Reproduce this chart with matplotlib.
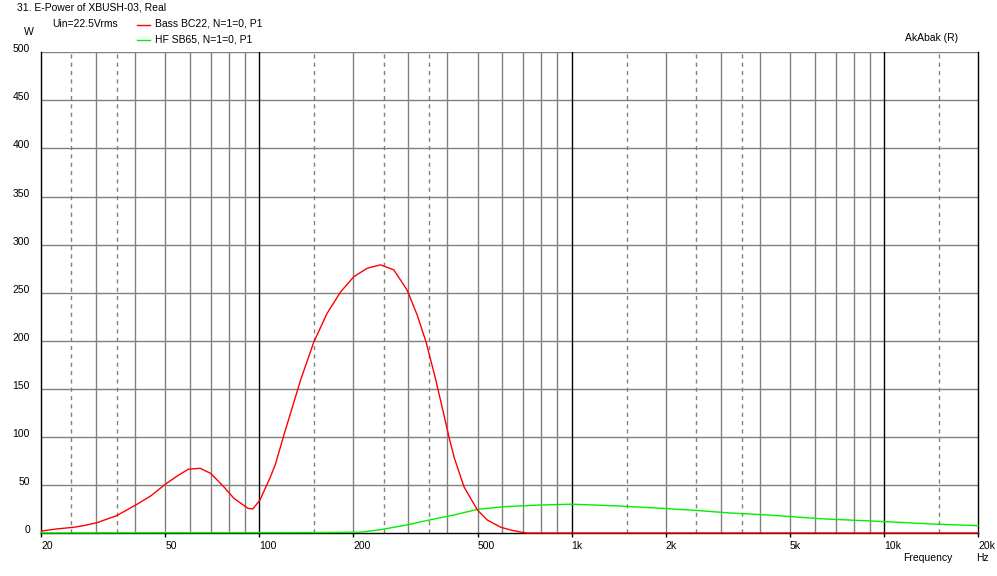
import matplotlib
matplotlib.use("Agg")
import matplotlib.pyplot as plt
import matplotlib.transforms as mtransforms

plt.rcParams["font.family"] = ["Liberation Sans", "DejaVu Sans"]
plt.rcParams["font.size"] = 7.5

# data
bass_freq = [20.1, 22.4, 25.4, 27.3, 30.2, 34.9, 40.6, 44.9, 50, 54.6, 59.2, 64.6,
             69.8, 76.9, 82.9, 91.9, 95.3, 100.5, 108.6, 112.6, 119.9, 127.3,
             135.6, 149.6, 164.9, 182.3, 200.9, 221.6, 244.4, 269.5, 297, 320.2,
             341.6, 364, 385.6, 405.7, 421.4, 452, 499, 537, 593, 640, 687, 720,
             20000]
bass_power = [2.1, 4.2, 5.9, 7.6, 10.7, 18, 29.9, 38.5, 50.7, 59.3, 66.3, 67.3,
              62.1, 48.2, 36.1, 25.7, 25, 34.3, 58.6, 71.5, 102, 129.8,
              159.2, 199, 228.6, 251, 266.7, 275.4, 278.9, 273.7, 252.9, 226.8,
              199, 164.4, 129.8, 98.5, 77.7, 48.2, 24, 13.5, 6, 3, 1, 0,
              0]

hf_freq = [20, 150, 211, 245, 298, 328, 381, 420, 499, 608, 778, 1000, 1439, 1933,
           2473, 3162, 4357, 6300, 9810, 14200, 20000]
hf_power = [0, 0.5, 0.8, 3.5, 8.5, 11.5, 16, 18.7, 24.6, 27.4, 29, 30, 28, 25.7,
            23.6, 21, 18.5, 14.8, 12, 9.4, 7.6]

x_ticks = [20, 50, 100, 200, 500, 1000, 2000, 5000, 10000, 20000]
x_labels = ["20", "50", "100", "200", "500", "1k", "2k", "5k", "10k", "20k"]
y_ticks = list(range(0, 501, 50))

W, H = 997, 576
fig = plt.figure(figsize=(W / 100, H / 100), dpi=100)
ax = fig.add_axes([41 / W, (H - 533) / H, (978 - 41) / W, (533 - 52.3) / H])

ax.set_xscale("log")
ax.set_xlim(20, 20000)
ax.set_ylim(0, 500)

grey = "#808080"
for base in [10, 100, 1000, 10000]:
    for m in [2, 3, 4, 5, 6, 7, 8, 9]:
        f = m * base
        if 20 < f < 20000:
            ax.axvline(f, color=grey, lw=1.0, zorder=1)
    for m in [1.5, 2.5, 3.5]:
        f = m * base
        if 20 < f < 20000:
            ax.axvline(f, color=grey, lw=1.0, ls=(0, (3, 3)), zorder=1)
for f in [100, 1000, 10000]:
    ax.axvline(f, color="black", lw=1.0, zorder=1.5)
for y in y_ticks[1:]:
    ax.axhline(y, color=grey, lw=1.0, zorder=1)

ax.plot(hf_freq, hf_power, color="#00ee00", lw=1.0, zorder=3, clip_on=False)
ax.plot(bass_freq, bass_power, color="#ff0000", lw=1.0, zorder=4, clip_on=False)

ax.spines["top"].set_visible(False)
for side in ["left", "bottom", "right"]:
    ax.spines[side].set_color("black")
    ax.spines[side].set_linewidth(1.0)
    ax.spines[side].set_zorder(2)

ax.set_xticks(x_ticks, x_labels)
ax.minorticks_off()
ax.tick_params(axis="x", length=3, width=1, pad=3, direction="out", labelsize=7.5)
for lbl in ax.get_xticklabels():
    lbl.set_ha("left")
ax.set_yticks(y_ticks, [str(v) for v in y_ticks])
ax.tick_params(axis="y", length=0, pad=8, labelsize=7.5)
shift = mtransforms.ScaledTranslation(0, 4 / 100, fig.dpi_scale_trans)
for lbl in ax.get_yticklabels():
    lbl.set_transform(lbl.get_transform() + shift)


def px(x, y):
    return x / W, 1 - y / H


fig.text(*px(17, 3), "31. E-Power of XBUSH-03, Real", ha="left", va="top")
fig.text(*px(52, 19), "Uin=22.5Vrms", ha="left", va="top")
fig.text(*px(155, 19), "Bass BC22, N=1=0, P1", ha="left", va="top")
fig.text(*px(155, 35), "HF SB65, N=1=0, P1", ha="left", va="top")
fig.lines.append(plt.Line2D([137 / W, 150 / W], [1 - 25 / H, 1 - 25 / H],
                            color="#ff0000", lw=1.0, transform=fig.transFigure))
fig.lines.append(plt.Line2D([137 / W, 150 / W], [1 - 40 / H, 1 - 40 / H],
                            color="#00ee00", lw=1.0, transform=fig.transFigure))
fig.text(*px(29, 27), "W", ha="center", va="top")
fig.text(*px(905, 33), "AkAbak (R)", ha="left", va="top")
fig.text(*px(903, 553), "Frequency", ha="left", va="top")
fig.text(*px(976, 553), "Hz", ha="left", va="top")

fig.savefig("out.png", dpi=100, facecolor="white")
